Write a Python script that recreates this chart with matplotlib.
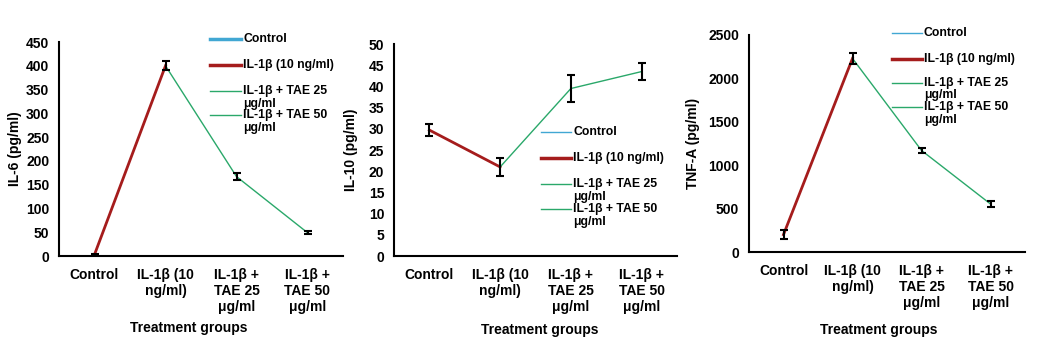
import numpy as np
import matplotlib.pyplot as plt
from matplotlib.lines import Line2D

plt.rcParams['font.family'] = ['Liberation Sans', 'DejaVu Sans']
plt.rcParams['font.weight'] = 'bold'

W, H = 1038, 348

# Treatment groups shared by all three panels
groups = ['Control', 'IL-1β (10\nng/ml)', 'IL-1β +\nTAE 25\nμg/ml', 'IL-1β +\nTAE 50\nμg/ml']
series_names = ['Control', 'IL-1β (10 ng/ml)', 'IL-1β + TAE 25\nμg/ml', 'IL-1β + TAE 50\nμg/ml']

# IL-6 (pg/ml)
il6_mean = [3, 400, 167, 49]
il6_err = [2, 9, 8, 3]

# IL-10 (pg/ml)
il10_mean = [29.7, 21.0, 39.5, 43.5]
il10_err = [1.5, 2.1, 3.2, 2.0]

# TNF-A (pg/ml)
tnf_mean = [200, 2230, 1170, 553]
tnf_err = [48, 60, 32, 38]

blue = '#41a7d3'
red = '#a51c1c'
green = '#2aa86a'

fig = plt.figure(figsize=(W / 100, H / 100), dpi=100)

def px_box(left, right, top, bottom):
    return [left / W, 1 - bottom / H, (right - left) / W, (bottom - top) / H]

panels = [
    dict(box=px_box(59, 343, 42, 256), mean=il6_mean, err=il6_err, ylim=450, step=50,
         ylabel='IL-6 (pg/ml)', ylab_x=-0.130, xlab=(0.458, -0.304),
         leg=(210, 241, [39, 65, 91, 115]), blue_lw=2.5),
    dict(box=px_box(394, 677, 44, 256), mean=il10_mean, err=il10_err, ylim=50, step=5,
         ylabel='IL-10 (pg/ml)', ylab_x=-0.127, xlab=(0.516, -0.316),
         leg=(541, 571, [132, 158, 184, 209]), blue_lw=1),
    dict(box=px_box(749, 1025, 35, 252), mean=tnf_mean, err=tnf_err, ylim=2500, step=500,
         ylabel='TNF-A (pg/ml)', ylab_x=-0.178, xlab=(0.471, -0.327),
         leg=(892, 922, [33, 59, 83, 107]), blue_lw=1),
]

x = np.arange(len(groups)) + 0.5

for p in panels:
    ax = fig.add_axes(p['box'])
    mean = np.array(p['mean'])
    err = np.array(p['err'])

    # IL-1β rise from control, then TAE treatment segment
    ax.plot(x[:2], mean[:2], color=red, lw=2, zorder=2)
    ax.plot(x[1:], mean[1:], color=green, lw=1, zorder=2)
    ax.errorbar(x, mean, yerr=err, fmt='none', ecolor='black', elinewidth=1.5,
                capsize=2.6, capthick=1.5, zorder=3)

    ax.set_xlim(0, len(groups))
    ax.set_ylim(0, p['ylim'])
    ax.set_yticks(np.arange(0, p['ylim'] + p['step'] / 2, p['step']))
    ax.set_xticks(x)
    ax.set_xticklabels(groups)
    ax.tick_params(axis='both', length=0, labelsize=10)
    ax.tick_params(axis='x', pad=8.5)
    ax.tick_params(axis='y', pad=7)
    for side in ['top', 'right']:
        ax.spines[side].set_visible(False)
    for side in ['left', 'bottom']:
        ax.spines[side].set_linewidth(1.5)
        ax.spines[side].set_color('black')

    ax.set_ylabel(p['ylabel'], fontsize=10, fontweight='bold')
    ax.yaxis.set_label_coords(p['ylab_x'], 0.5)
    ax.set_xlabel('Treatment groups', fontsize=10, fontweight='bold')
    ax.xaxis.set_label_coords(*p['xlab'])

    # legend drawn as free lines and text
    x0, x1, rows = p['leg']
    styles = [(blue, p['blue_lw']), (red, 2.5), (green, 1), (green, 1)]
    for name, (c, lw), yy in zip(series_names, styles, rows):
        fig.add_artist(Line2D([x0 / W, x1 / W], [1 - yy / H, 1 - yy / H],
                              color=c, lw=lw))
        for i, part in enumerate(name.split('\n')):
            fig.text((x1 + 2) / W, 1 - (yy + i * 12.5) / H, part, fontsize=8.8,
                     fontweight='bold', va='center', ha='left')

fig.savefig('out.png', dpi=100, facecolor='white')
